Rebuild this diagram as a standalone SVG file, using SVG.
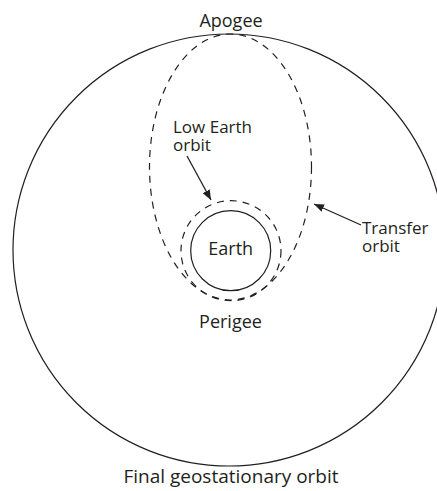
<svg xmlns="http://www.w3.org/2000/svg" width="437" height="491" viewBox="0 0 437 491">
<style>
.solid{fill:none;stroke:#231f20;stroke-width:1.2}
.dash{fill:none;stroke:#231f20;stroke-width:1.2;stroke-dasharray:7 6}
.lbl{font-family:"Open Sans","Liberation Sans",sans-serif;font-size:18px;fill:#231f20}
.tight{font-size:17px}
.arr{stroke:#231f20;stroke-width:1.3;fill:none;marker-end:url(#ah)}
</style>
<defs>
<marker id="ah" viewBox="0 0 10 8" refX="10" refY="4" markerWidth="10" markerHeight="8" markerUnits="userSpaceOnUse" orient="auto">
<path d="M0,0 L10,4 L0,8 Z" fill="#231f20"/>
</marker>
</defs>
<rect width="437" height="491" fill="#fff"/>
<g id="geo-orbit">
<circle class="solid" cx="229" cy="250" r="216"/>
<text class="lbl" x="231" y="483" text-anchor="middle" style="font-size:19px">Final geostationary orbit</text>
</g>
<g id="transfer-orbit">
<ellipse class="dash" cx="230.5" cy="167" rx="81" ry="133"/>
<text class="lbl tight" x="362" y="233.5">Transfer</text>
<text class="lbl tight" x="362" y="251.5">orbit</text>
</g>
<g id="leo">
<circle class="dash" cx="231" cy="250.7" r="50"/>
<text class="lbl tight" x="173" y="132.5">Low Earth</text>
<text class="lbl tight" x="173" y="150.5">orbit</text>
</g>
<g id="earth">
<circle class="solid" cx="230.7" cy="250.7" r="40"/>
<text class="lbl" x="230.7" y="255" text-anchor="middle">Earth</text>
</g>
<g id="apogee">
<text class="lbl" x="231" y="27" text-anchor="middle">Apogee</text>
</g>
<g id="perigee">
<text class="lbl" x="230.5" y="328" text-anchor="middle">Perigee</text>
</g>
<g id="connectors">
<line class="arr" x1="187" y1="156" x2="211" y2="200"/>
<line class="arr" x1="361" y1="225" x2="314" y2="204"/>
</g>
</svg>
